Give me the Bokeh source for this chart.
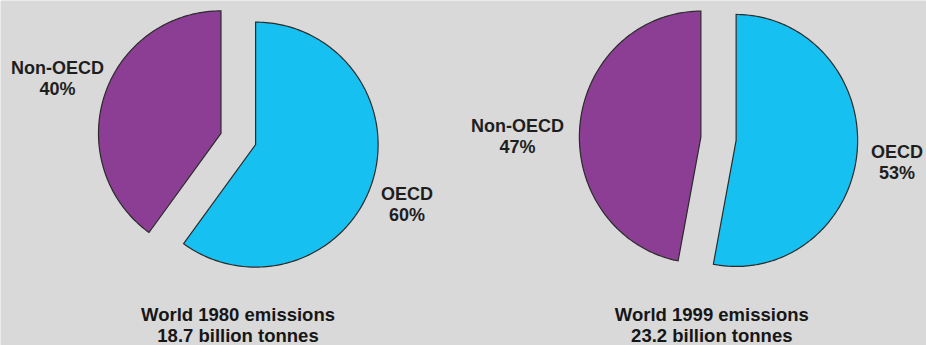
import numpy as np
from bokeh.plotting import figure
from bokeh.models import Range1d
from bokeh.core.properties import value
from bokeh.embed import file_html
from bokeh.resources import INLINE

# --- data -------------------------------------------------------------
years = ["1980", "1999"]
totals_bt = [18.7, 23.2]                 # world emissions, billion tonnes
groups = ["OECD", "Non-OECD"]
shares_1980 = [60, 40]                   # percent, OECD first
shares_1999 = [53, 47]
shares = [shares_1980, shares_1999]

# --- style ------------------------------------------------------------
W, H = 926, 345
BG = "#d9d9d9"
COLORS = {"OECD": "#16c1f1", "Non-OECD": "#8b3e94"}
EDGE = "#2b2b2b"
TEXT = "#1e1e1e"
FONT = "Liberation Sans"

# per-pie layout in screen pixels (y grows downwards)
layouts = [
    dict(cx=237.8, cy=138.5, rx=122.5, ry=122.5, explode=18.2, title_x=237.5,
         label_pos={"Non-OECD": (57, 67), "OECD": (406.5, 193)}),
    dict(cx=718.0, cy=138.3, rx=121.5, ry=126.0, explode=17.7, title_x=711.3,
         label_pos={"Non-OECD": (517, 125), "OECD": (896.5, 151.5)}),
]
LINE_GAP = 21
TITLE_Y = 314

p = figure(width=W, height=H, x_range=Range1d(0, W), y_range=Range1d(H, 0),
           output_backend="svg", toolbar_location=None, min_border=0,
           x_axis_location=None, y_axis_location=None)
p.grid.visible = False
p.outline_line_color = None
p.background_fill_color = BG
p.border_fill_color = BG


def slice_polygon(cx, cy, rx, ry, a0, a1, n=180):
    """Wedge from clockwise angle a0 to a1 (degrees, 0 = 12 o'clock)."""
    ang = np.radians(np.linspace(a0, a1, n))
    xs = np.concatenate([[cx], cx + rx * np.sin(ang), [cx]])
    ys = np.concatenate([[cy], cy - ry * np.cos(ang), [cy]])
    return xs.tolist(), ys.tolist()


for year, total, share, lay in zip(years, totals_bt, shares, layouts):
    start = 0.0
    for grp, pct in zip(groups, share):
        span = pct * 3.6
        mid = np.radians(start + span / 2)
        ox = lay["explode"] * np.sin(mid)
        oy = -lay["explode"] * np.cos(mid)
        xs, ys = slice_polygon(lay["cx"] + ox, lay["cy"] + oy,
                               lay["rx"], lay["ry"], start, start + span)
        p.patch(xs, ys, fill_color=COLORS[grp], line_color=EDGE,
                line_width=1.2, line_join="miter")
        start += span

        lx, ly = lay["label_pos"][grp]
        p.text(x=[lx, lx], y=[ly, ly + LINE_GAP], text=[grp, f"{pct}%"],
               text_align="center", text_baseline="middle",
               text_font=value(FONT), text_font_style="bold",
               text_font_size="18px", text_color=TEXT)

    p.text(x=[lay["title_x"], lay["title_x"]], y=[TITLE_Y, TITLE_Y + 20.5],
           text=[f"World {year} emissions", f"{total} billion tonnes"],
           text_align="center", text_baseline="middle",
           text_font=value(FONT), text_font_style="bold",
           text_font_size="18.5px", text_color="#161616")

open("out.html", "w").write(file_html(p, INLINE))
